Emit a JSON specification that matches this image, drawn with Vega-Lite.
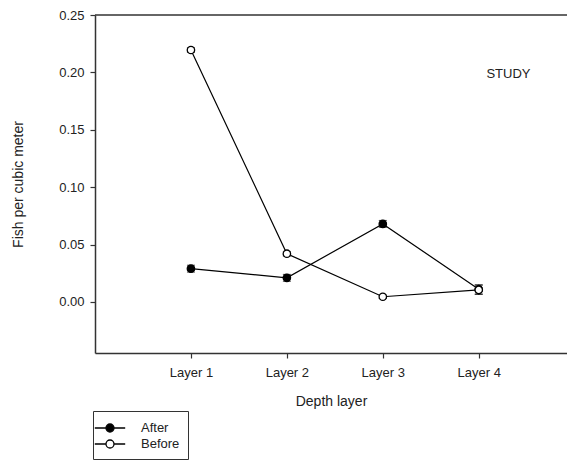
{
  "$schema": "https://vega.github.io/schema/vega-lite/v6.json",
  "width": 472,
  "height": 338,
  "autosize": {"type": "none"},
  "padding": {"left": 95, "top": 15, "right": 0, "bottom": 109},
  "background": "white",
  "config": {
    "font": "Liberation Sans",
    "view": {"stroke": null},
    "axis": {
      "grid": false,
      "domainColor": "#333333",
      "domainWidth": 1.5,
      "tickColor": "#333333",
      "tickWidth": 1.2,
      "tickSize": 5,
      "labelFont": "Liberation Sans",
      "labelFontSize": 13,
      "labelColor": "#222222",
      "titleFont": "Liberation Sans",
      "titleFontSize": 14,
      "titleFontWeight": "normal",
      "titleColor": "#222222"
    }
  },
  "data": {
    "values": [
      {"layer": 1, "group": "After", "value": 0.029, "lo": 0.026, "hi": 0.032},
      {"layer": 2, "group": "After", "value": 0.021, "lo": 0.018, "hi": 0.024},
      {"layer": 3, "group": "After", "value": 0.068, "lo": 0.065, "hi": 0.071},
      {"layer": 4, "group": "After", "value": 0.011, "lo": 0.007, "hi": 0.015},
      {"layer": 1, "group": "Before", "value": 0.2195, "lo": 0.2175, "hi": 0.2215},
      {"layer": 2, "group": "Before", "value": 0.042, "lo": 0.040, "hi": 0.044},
      {"layer": 3, "group": "Before", "value": 0.0045, "lo": 0.003, "hi": 0.006},
      {"layer": 4, "group": "Before", "value": 0.0105, "lo": 0.0065, "hi": 0.0145}
    ]
  },
  "layer": [
    {
      "data": {"values": [{"top": 0.25}]},
      "mark": {"type": "rule", "color": "#333333", "strokeWidth": 1.5},
      "encoding": {"y": {"field": "top", "type": "quantitative", "title": "Fish per cubic meter"}}
    },
    {
      "mark": {"type": "errorbar", "ticks": {"size": 8, "color": "black", "strokeWidth": 1.5}, "rule": {"color": "black", "strokeWidth": 1.5}},
      "encoding": {
        "x": {"field": "layer", "type": "quantitative", "title": "Depth layer"},
        "y": {"field": "lo", "type": "quantitative", "title": "Fish per cubic meter"},
        "y2": {"field": "hi"}
      }
    },
    {
      "mark": {"type": "line", "color": "black", "strokeWidth": 1.2},
      "encoding": {
        "x": {"field": "layer", "type": "quantitative", "title": "Depth layer"},
        "y": {"field": "value", "type": "quantitative", "title": "Fish per cubic meter"},
        "detail": {"field": "group"}
      }
    },
    {
      "mark": {"type": "circle", "size": 55, "stroke": "black", "strokeWidth": 1.3, "opacity": 1},
      "encoding": {
        "x": {
          "field": "layer", "type": "quantitative",
          "scale": {"domain": [0, 4.92], "nice": false, "zero": false},
          "axis": {"values": [1, 2, 3, 4], "labelExpr": "'Layer ' + datum.value", "labelPadding": 8, "titlePadding": 15},
          "title": "Depth layer"
        },
        "y": {
          "field": "value", "type": "quantitative",
          "scale": {"domain": [-0.0445, 0.25], "nice": false, "zero": false},
          "axis": {"values": [0, 0.05, 0.1, 0.15, 0.2, 0.25], "format": ".2f", "labelPadding": 6, "titlePadding": 33},
          "title": "Fish per cubic meter"
        },
        "fill": {
          "field": "group", "type": "nominal",
          "scale": {"domain": ["After", "Before"], "range": ["black", "white"]},
          "legend": {
            "orient": "none",
            "legendX": -2,
            "legendY": 396,
            "title": null,
            "symbolType": "M-1.9,0H-0.5M0.5,0H1.9M-0.5,0A0.5,0.5 0 1,0 0.5,0A0.5,0.5 0 1,0 -0.5,0Z",
            "symbolSize": 256,
            "symbolStrokeColor": "black",
            "symbolStrokeWidth": 1.3,
            "strokeColor": "#333333",
            "padding": 8,
            "labelFontSize": 13,
            "labelFont": "Liberation Sans",
            "labelColor": "#222222",
            "labelOffset": 22,
            "rowPadding": -4
          }
        }
      }
    },
    {
      "data": {"values": [{"x": 4.31, "y": 0.199, "label": "STUDY"}]},
      "mark": {"type": "text", "fontSize": 13, "font": "Liberation Sans", "color": "#222222", "align": "center", "baseline": "middle"},
      "encoding": {
        "x": {"field": "x", "type": "quantitative", "title": "Depth layer"},
        "y": {"field": "y", "type": "quantitative", "title": "Fish per cubic meter"},
        "text": {"field": "label"}
      }
    }
  ]
}
